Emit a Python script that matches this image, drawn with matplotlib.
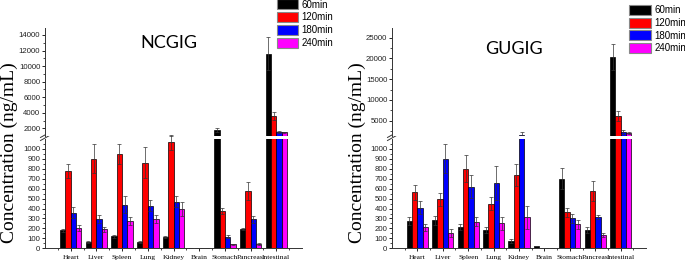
import numpy as np
import matplotlib
matplotlib.use("Agg")
import matplotlib.pyplot as plt
from matplotlib.patches import Patch
from matplotlib.ticker import MultipleLocator

organs = ["Heart", "Liver", "Spleen", "Lung", "Kidney", "Brain", "Stomach", "Pancreas", "Intestinal"]
times = ["60min", "120min", "180min", "240min"]
colors = ["#000000", "#ff0000", "#0000ff", "#ff00ff"]

# NCGIG (ng/mL), mean and error
ncg_60 = [180, 63, 120, 67, 113, 3, 1800, 193, 11600]
ncg_60_err = [13, 10, 13, 10, 14, 1, 280, 8, 2100]
ncg_120 = [777, 903, 950, 863, 1067, 2, 373, 577, 3600]
ncg_120_err = [73, 150, 103, 160, 77, 1, 30, 93, 480]
ncg_180 = [360, 293, 440, 430, 470, 2, 117, 293, 1550]
ncg_180_err = [60, 40, 83, 53, 57, 1, 13, 37, 100]
ncg_240 = [200, 190, 277, 293, 393, 1, 40, 43, 1480]
ncg_240_err = [30, 23, 43, 40, 70, 1, 7, 10, 80]

# GUGIG (ng/mL), mean and error
gug_60 = [277, 280, 213, 183, 73, 23, 700, 183, 20300]
gug_60_err = [40, 50, 27, 34, 24, 3, 107, 27, 3200]
gug_120 = [563, 493, 803, 450, 737, 3, 363, 577, 6200]
gug_120_err = [77, 63, 140, 63, 113, 1, 47, 103, 1200]
gug_180 = [410, 903, 620, 660, 1560, 2, 300, 317, 2280]
gug_180_err = [63, 150, 117, 173, 800, 1, 47, 20, 400]
gug_240 = [213, 153, 267, 253, 310, 1, 240, 130, 2040]
gug_240_err = [34, 37, 43, 67, 115, 1, 43, 20, 300]

panels = [
    dict(title="NCGIG", means=[ncg_60, ncg_120, ncg_180, ncg_240],
         errs=[ncg_60_err, ncg_120_err, ncg_180_err, ncg_240_err],
         left=45, width=257, up_lim=(1050, 14900), up_major=2000, up_minor=1000,
         title_xy=(169, 43), ylab_x=9, leg_xy=(276.7, -0.5)),
    dict(title="GUGIG", means=[gug_60, gug_120, gug_180, gug_240],
         errs=[gug_60_err, gug_120_err, gug_180_err, gug_240_err],
         left=392, width=254, up_lim=(1400, 27300), up_major=5000, up_minor=2500,
         title_xy=(513.5, 49), ylab_x=357, leg_xy=(629, 5)),
]

W, H = 685, 265
LO_TOP = 1100
fig = plt.figure(figsize=(W / 100, H / 100), dpi=100)

x = np.arange(1, len(organs) + 1)
bw = 0.21


def style_y(ax):
    ax.tick_params(axis="y", which="major", direction="out", length=2.2, width=0.6, pad=1.2)
    ax.tick_params(axis="y", which="minor", direction="out", length=1.2, width=0.5)
    for lab in ax.get_yticklabels():
        lab.set_fontfamily("Liberation Sans")
        lab.set_fontsize(5.6)
        lab.set_color("#222222")
    ax.spines["left"].set_linewidth(0.7)
    ax.spines["left"].set_color("#333333")


for p in panels:
    fx = p["left"] / W
    fw = p["width"] / W
    ax_lo = fig.add_axes([fx, 1 - 248.3 / H, fw, (248.3 - 139) / H])
    ax_up = fig.add_axes([fx, 1 - 135.7 / H, fw, (135.7 - 28) / H])

    for i in range(4):
        xi = x + (i - 1.5) * bw
        m = np.array(p["means"][i], dtype=float)
        e = np.array(p["errs"][i], dtype=float)
        for ax in (ax_lo, ax_up):
            ax.bar(xi, m, bw, color=colors[i], edgecolor="black", linewidth=0.5)
        # error bars only on the axis holding the bar top
        lo = m <= LO_TOP
        ax_lo.errorbar(xi[lo], m[lo], yerr=e[lo], fmt="none", ecolor="#333333",
                       elinewidth=0.5, capsize=1.3, capthick=0.5, clip_on=False)
        up = m > p["up_lim"][0]
        ax_up.errorbar(xi[up], m[up], yerr=e[up], fmt="none", ecolor="#333333",
                       elinewidth=0.5, capsize=1.3, capthick=0.5)

    for ax in (ax_lo, ax_up):
        ax.set_xlim(0, 10)
        ax.spines["top"].set_visible(False)
        ax.spines["right"].set_visible(False)

    ax_lo.set_ylim(0, LO_TOP)
    ax_lo.set_yticks(np.arange(0, 1001, 100))
    ax_lo.set_yticks(np.arange(50, 1100, 100), minor=True)
    ax_lo.set_xticks(x)
    ax_lo.set_xticklabels(organs, family="Liberation Serif", size=5.4)
    ax_lo.set_xticks(np.arange(0.5, 10, 1), minor=True)
    ax_lo.tick_params(axis="x", which="major", direction="out", length=2, width=0.6, pad=2.5)
    ax_lo.tick_params(axis="x", which="minor", direction="out", length=1.2, width=0.5)
    ax_lo.spines["bottom"].set_linewidth(0.7)
    ax_lo.spines["bottom"].set_color("#333333")
    style_y(ax_lo)

    ax_up.set_ylim(*p["up_lim"])
    ax_up.yaxis.set_major_locator(MultipleLocator(p["up_major"]))
    ax_up.yaxis.set_minor_locator(MultipleLocator(p["up_minor"]))
    ax_up.spines["bottom"].set_visible(False)
    ax_up.set_xticks([])
    ax_up.set_yticks([t for t in ax_up.get_yticks() if p["up_lim"][0] < t <= p["up_lim"][1]])
    style_y(ax_up)

    # axis break marks
    dx = 4.5 / p["width"]
    dy = 2.5 / (248.3 - 139)
    for yc in (1.009, 1.037):
        ax_lo.plot([-dx, dx], [yc - dy, yc + dy], transform=ax_lo.transAxes,
                   color="#333333", lw=0.7, clip_on=False)

    fig.text(p["title_xy"][0] / W, 1 - p["title_xy"][1] / H, p["title"],
             family="Lato", size=13, ha="center", va="center")
    fig.text(p["ylab_x"] / W, 1 - 152.5 / H, "Concentration (ng/mL)",
             family="Liberation Serif", size=14, rotation=90, ha="center", va="center")

    handles = [Patch(facecolor=c, edgecolor="#888888", linewidth=0.8) for c in colors]
    fig.legend(handles, times, loc="upper left",
               bbox_to_anchor=(p["leg_xy"][0] / W, 1 - p["leg_xy"][1] / H),
               bbox_transform=fig.transFigure, frameon=False, borderpad=0,
               borderaxespad=0, handlelength=2.23, handleheight=1.18,
               labelspacing=0.26, handletextpad=0.35,
               prop=dict(family="Liberation Sans", size=7))

fig.savefig("out.png", dpi=100)
